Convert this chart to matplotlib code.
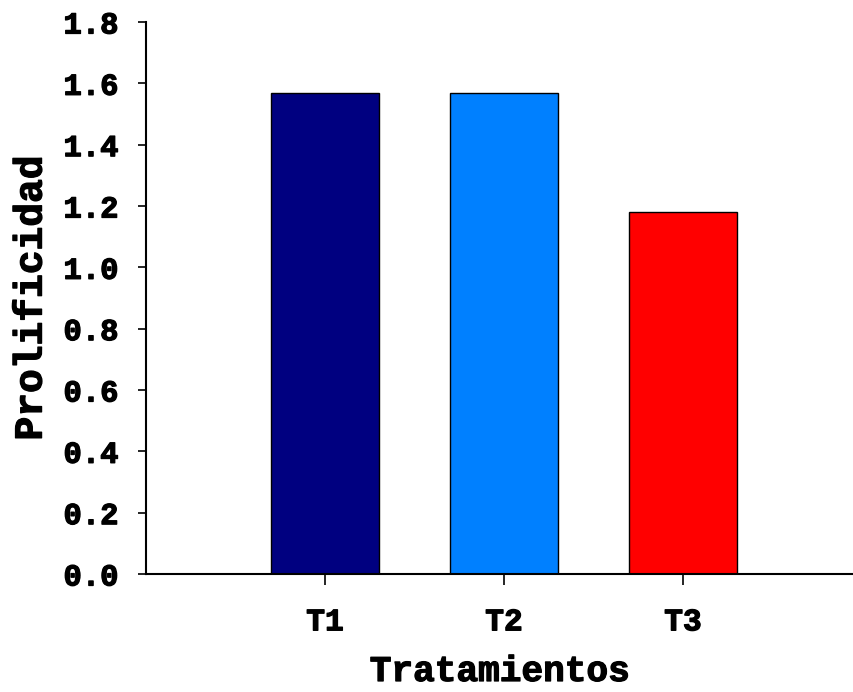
import matplotlib
matplotlib.use("Agg")
import matplotlib.pyplot as plt
import matplotlib.patheffects as pe

# data
tratamientos = ["T1", "T2", "T3"]
prolificidad = [1.57, 1.57, 1.18]
colores = ["#000080", "#0080FF", "#FF0000"]
y_ticks = [0.0, 0.2, 0.4, 0.6, 0.8, 1.0, 1.2, 1.4, 1.6, 1.8]

fuente = ["Liberation Mono", "DejaVu Sans Mono"]
grueso = [pe.withStroke(linewidth=0.9, foreground="black")]

fig = plt.figure(figsize=(8.54, 6.92), dpi=100)
ax = fig.add_axes([146/854, (692-574)/692, (853-146)/854, (574-22)/692])

pos = list(range(1, len(tratamientos)+1))
ax.bar(pos, prolificidad, width=0.6, color=colores, edgecolor="black", linewidth=1.0)

ax.set_xlim(0, 3.95)
ax.set_ylim(0, 1.8)
ax.set_xticks(pos)
ax.set_xticklabels(tratamientos, family=fuente, fontweight="bold", fontsize=22.5)
ax.set_yticks(y_ticks)
ax.set_yticklabels(["%.1f" % v for v in y_ticks], family=fuente, fontweight="bold", fontsize=22)
for t in ax.get_xticklabels() + ax.get_yticklabels():
    t.set_path_effects(grueso)

for s in ["top", "right"]:
    ax.spines[s].set_visible(False)
ax.spines["left"].set_linewidth(1.5)
ax.spines["bottom"].set_linewidth(1.5)
ax.tick_params(axis="y", direction="out", length=6, width=1.2, pad=14)
ax.tick_params(axis="x", direction="out", length=8, width=1.2, pad=16)

ax.set_xlabel("Tratamientos", family=fuente, fontweight="bold", fontsize=26, labelpad=12,
              path_effects=grueso)
ax.set_ylabel("Prolificidad", family=fuente, fontweight="bold", fontsize=28.5, labelpad=10,
              path_effects=grueso)

fig.savefig("out.png", dpi=100)
